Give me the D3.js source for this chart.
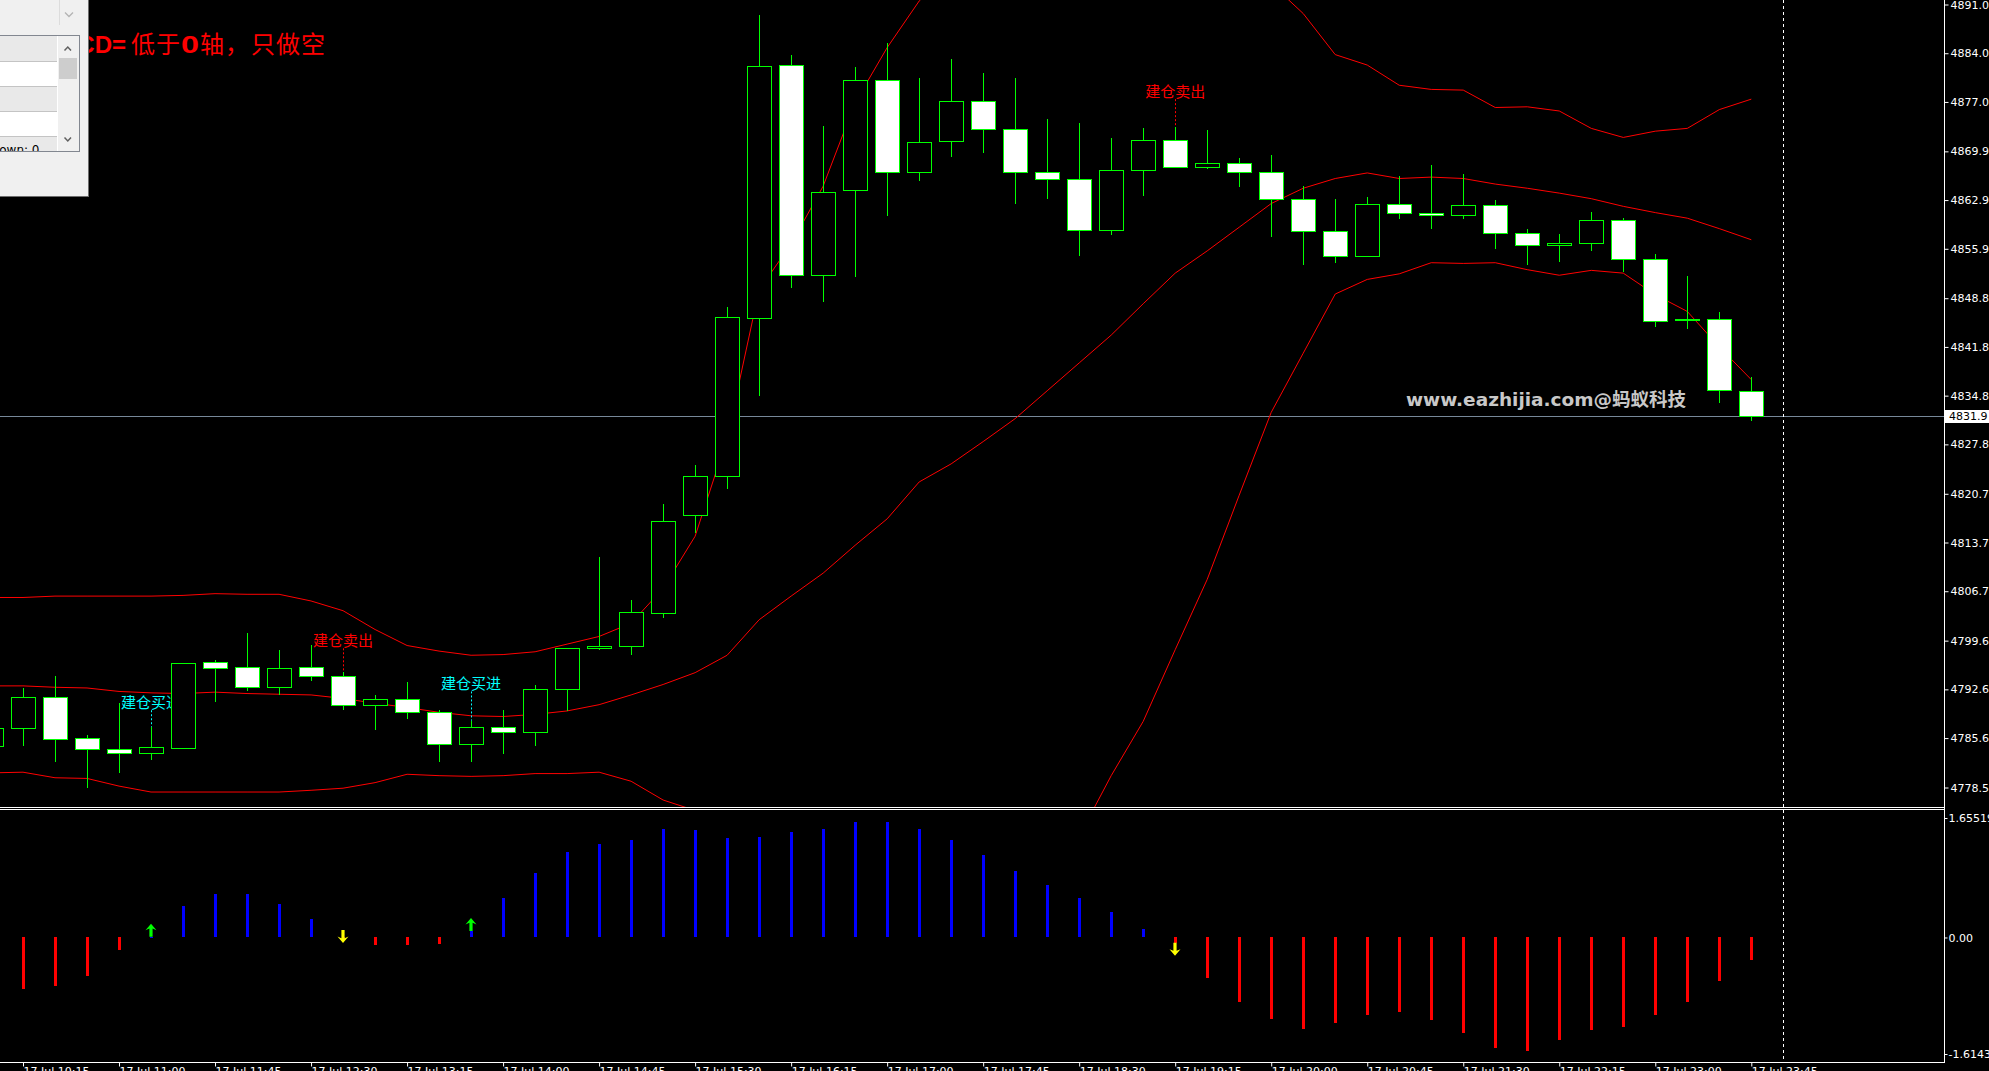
<!DOCTYPE html>
<html><head><meta charset="utf-8">
<script src="https://cdn.jsdelivr.net/npm/d3@7"></script>
<style>html,body{margin:0;padding:0;background:#000;overflow:hidden}svg{display:block}</style>
</head><body><svg id="c" width="1989" height="1071"></svg>
<script>
// ---------- DATA ----------
const times = ["10:00","10:15","10:30","10:45","11:00","11:15","11:30","11:45","12:00","12:15","12:30","12:45","13:00","13:15","13:30","13:45","14:00","14:15","14:30","14:45","15:00","15:15","15:30","15:45","16:00","16:15","16:30","16:45","17:00","17:15","17:30","17:45","18:00","18:15","18:30","18:45","19:00","19:15","19:30","19:45","20:00","20:15","20:30","20:45","21:00","21:15","21:30","21:45","22:00","22:15","22:30","22:45","23:00","23:15","23:30","23:45"];
const open  = [4784.5,4787.0,4791.5,4785.6,4784.1,4783.4,4784.2,4796.5,4795.8,4792.9,4795.8,4794.5,4790.3,4791.2,4789.3,4784.7,4787.2,4786.5,4792.6,4798.5,4798.9,4803.6,4817.6,4823.2,4845.9,4882.3,4852.1,4864.3,4880.2,4866.9,4871.4,4877.2,4873.1,4866.9,4866.0,4858.6,4867.2,4871.6,4867.6,4868.2,4866.9,4863.0,4858.4,4854.8,4862.4,4861.0,4860.7,4862.2,4858.1,4856.4,4856.7,4860.1,4854.4,4845.8,4845.8,4835.4];
const high  = [4788.0,4792.8,4794.5,4786.0,4790.6,4787.2,4796.45,4796.8,4800.7,4798.3,4799.0,4795.1,4791.8,4793.7,4789.6,4788.1,4789.6,4793.2,4798.6,4811.6,4805.4,4819.3,4824.9,4847.6,4889.5,4883.8,4873.6,4882.0,4885.5,4880.4,4883.1,4881.2,4880.4,4874.6,4874.0,4871.8,4873.3,4873.4,4873.0,4868.9,4869.4,4864.9,4863.0,4863.3,4866.4,4867.9,4866.7,4862.9,4858.7,4858.0,4861.2,4860.3,4855.2,4852.0,4846.8,4837.5];
const low   = [4783.0,4784.5,4782.2,4778.5,4780.6,4782.4,4784.0,4790.8,4792.4,4791.8,4793.8,4789.7,4786.8,4788.3,4782.1,4782.1,4783.3,4784.4,4789.5,4798.2,4797.5,4802.9,4815.0,4821.4,4834.8,4850.2,4848.3,4851.9,4860.6,4865.7,4869.1,4869.6,4862.4,4863.0,4854.8,4857.9,4863.5,4867.5,4867.4,4864.8,4857.6,4853.6,4853.9,4854.8,4860.2,4858.8,4860.2,4855.8,4853.6,4854.0,4855.6,4852.6,4844.6,4844.4,4833.8,4831.1];
const close = [4787.0,4791.5,4785.5,4784.1,4783.4,4784.3,4796.4,4795.7,4792.9,4795.6,4794.5,4790.3,4791.2,4789.3,4784.7,4787.2,4786.5,4792.6,4798.5,4798.9,4803.7,4816.8,4823.3,4846.1,4882.2,4852.1,4864.1,4880.2,4866.9,4871.3,4877.2,4873.1,4866.9,4866.0,4858.6,4867.2,4871.6,4867.6,4868.2,4866.9,4863.0,4858.4,4854.8,4862.4,4861.1,4860.7,4862.2,4858.1,4856.4,4856.7,4860.1,4854.4,4845.5,4845.8,4835.6,4831.9];
const bbUpper  = [4805.8,4805.8,4806.0,4806.0,4806.0,4806.0,4806.1,4806.35,4806.26,4806.26,4805.3,4803.9,4801.2,4798.9,4798.1,4797.5,4797.6,4798.0,4799.1,4800.2,4802.1,4807.1,4814.6,4828.7,4850.0,4856.6,4864.9,4876.9,4884.8,4891.5,4896,4899,4902,4905,4907,4907,4908,4906.5,4903,4898,4894,4889.7,4883.8,4882.3,4879.4,4878.8,4878.7,4876.2,4876.3,4875.7,4873.2,4871.9,4872.8,4873.2,4875.9,4877.4];
const bbMiddle = [4793.1,4793.1,4792.9,4792.8,4792.3,4792.1,4792.0,4792.2,4792.0,4791.9,4791.8,4791.3,4790.6,4790.0,4789.3,4788.8,4788.7,4789.0,4789.5,4790.4,4791.8,4793.3,4795.0,4797.5,4802.6,4806.0,4809.3,4813.3,4817.1,4822.4,4825.0,4828.2,4831.5,4835.5,4839.5,4843.5,4848.0,4852.4,4855.6,4859.0,4862.4,4864.6,4866.0,4866.8,4866.0,4866.2,4866.0,4865.2,4864.6,4863.9,4863.1,4862.0,4861.1,4860.3,4858.8,4857.2];
const bbLower  = [4780.6,4780.7,4779.9,4779.8,4778.7,4777.85,4777.85,4777.85,4777.85,4777.85,4778.1,4778.4,4779.2,4780.4,4780.2,4780.1,4780.2,4780.5,4780.5,4780.7,4779.4,4776.7,4775.2,4766.3,4755.2,4755.4,4753.7,4749.7,4749.4,4753.3,4754,4757.4,4761,4766,4771.5,4780.2,4788.0,4798.3,4808.4,4820.5,4832.4,4840.9,4849.4,4851.5,4852.3,4853.9,4853.8,4853.9,4852.9,4852.1,4852.8,4852.4,4849.3,4846.9,4841.8,4837.1];
const macdHist = [-0.72,-0.71,-0.67,-0.53,-0.18,0.01,0.44,0.60,0.60,0.47,0.26,-0.01,-0.11,-0.11,-0.09,0.09,0.55,0.89,1.18,1.30,1.35,1.50,1.49,1.38,1.39,1.46,1.50,1.60,1.60,1.50,1.35,1.14,0.92,0.73,0.55,0.35,0.12,-0.07,-0.56,-0.89,-1.13,-1.27,-1.19,-1.07,-1.03,-1.15,-1.33,-1.53,-1.57,-1.42,-1.28,-1.24,-1.08,-0.89,-0.60,-0.31];
const priceTicks = [4891.0,4884.0,4877.0,4869.9,4862.9,4855.9,4848.8,4841.8,4834.8,4827.8,4820.7,4813.7,4806.7,4799.6,4792.6,4785.6,4778.5];
const lastPrice = 4831.9;
const macdTicks = [1.65519, 0, -1.6143];
const macdTickLabels = ["1.65519","0.00","-1.6143"];
const timeTicks = ["10:15","11:00","11:45","12:30","13:15","14:00","14:45","15:30","16:15","17:00","17:45","18:30","19:15","20:00","20:45","21:30","22:15","23:00","23:45"];
const timeTickLabels = ["17 Jul 10:15","17 Jul 11:00","17 Jul 11:45","17 Jul 12:30","17 Jul 13:15","17 Jul 14:00","17 Jul 14:45","17 Jul 15:30","17 Jul 16:15","17 Jul 17:00","17 Jul 17:45","17 Jul 18:30","17 Jul 19:15","17 Jul 20:00","17 Jul 20:45","17 Jul 21:30","17 Jul 22:15","17 Jul 23:00","17 Jul 23:45"];
const signalTimes  = ["11:15","12:45","13:45","19:15"];
const signalTexts  = ["建仓买进","建仓卖出","建仓买进","建仓卖出"];
const signalColors = ["#00ffff","#ff0000","#00ffff","#ff0000"];
const signalPrices = [4789.6,4798.5,4792.3,4877.4];
const arrowTimes = ["11:15","12:45","13:45","19:15"];
const arrowDirs  = ["up","down","up","down"];
const arrowVals  = [0.01,0.103,0.09,-0.072];
const titleParts = ["MACD=","低于","0","轴，","只做空"];
const watermark = "www.eazhijia.com@蚂蚁科技";

// ---------- SCALES ----------
const svg = d3.select("#c");
svg.append("rect").attr("width",1989).attr("height",1071).attr("fill","#000");
const axisX = 1944, mainBottom = 807, indTop = 810, indBottom = 1062;
const x = d3.scalePoint().domain(times).range([-9, 1751.3]);
const y = d3.scaleLinear().domain([4778.5, 4891.0]).range([787.5, 4.5]);
const ym = d3.scaleLinear().domain([-1.6143, 1.65519]).range([1054, 818]);
const idx = d3.range(times.length);
const px = v => Math.round(v) + 0.5;

const defs = svg.append("defs");
defs.append("clipPath").attr("id","mainClip").append("rect").attr("x",0).attr("y",0).attr("width",axisX).attr("height",mainBottom);
defs.append("clipPath").attr("id","indClip").append("rect").attr("x",0).attr("y",indTop).attr("width",axisX).attr("height",indBottom-indTop);
defs.append("clipPath").attr("id","lbClip").append("rect").attr("x",0).attr("y",36).attr("width",57).attr("height",115);

// ---------- MAIN PANEL ----------
const main = svg.append("g").attr("clip-path","url(#mainClip)");
main.append("line").attr("x1",0).attr("x2",axisX).attr("y1",px(y(lastPrice))).attr("y2",px(y(lastPrice)))
  .attr("stroke","#778899").attr("stroke-width",1);
const bandLine = arr => d3.line().x(i => x(times[i])).y(i => y(arr[i]))(idx);
[bbUpper,bbMiddle,bbLower].forEach(arr => {
  main.append("path").attr("d",bandLine(arr)).attr("fill","none").attr("stroke","#ff0000").attr("stroke-width",1);
});
signalTimes.forEach((t,k) => {
  const i = times.indexOf(t);
  const cx = px(x(t));
  const yb = y(signalPrices[k]);
  main.append("line").attr("x1",cx).attr("x2",cx).attr("y1",yb).attr("y2",y(high[i]))
    .attr("stroke",signalColors[k]).attr("stroke-width",1).attr("stroke-dasharray","2,2");
  main.append("text").attr("x",x(t)).attr("y",yb-2).attr("text-anchor","middle")
    .attr("font-family","'Noto Sans CJK SC','Noto Sans',sans-serif").attr("font-size",15)
    .attr("fill",signalColors[k]).text(signalTexts[k]);
});
const cg = main.append("g").attr("shape-rendering","crispEdges");
idx.forEach(i => {
  const cx = px(x(times[i]));
  cg.append("line").attr("x1",cx).attr("x2",cx).attr("y1",y(high[i])).attr("y2",y(low[i]))
    .attr("stroke","#00ff00").attr("stroke-width",1);
});
idx.forEach(i => {
  const cx = Math.round(x(times[i]));
  const top = Math.round(y(Math.max(open[i],close[i])));
  const bot = Math.round(y(Math.min(open[i],close[i])));
  const bear = close[i] < open[i];
  cg.append("rect").attr("x",cx-12+0.5).attr("y",top+0.5).attr("width",24).attr("height",Math.max(1,bot-top))
    .attr("fill", bear ? "#ffffff" : "#000000").attr("stroke","#00ff00").attr("stroke-width",1);
});
svg.append("text").attr("x",1406).attr("y",406)
  .attr("font-family","'DejaVu Sans','Noto Sans CJK SC',sans-serif").attr("font-weight","bold").attr("font-size",18.5)
  .attr("fill","#c8c8c8").text(watermark);

// ---------- INDICATOR PANEL ----------
const ind = svg.append("g").attr("clip-path","url(#indClip)").attr("shape-rendering","crispEdges");
idx.forEach(i => {
  const v = macdHist[i];
  const cx = x(times[i]);
  const y0 = ym(0), y1 = ym(v);
  ind.append("rect").attr("x",Math.round(cx)-1).attr("width",3)
    .attr("y",Math.min(y0,y1)).attr("height",Math.max(1,Math.abs(y1-y0)))
    .attr("fill", v >= 0 ? "#0000ff" : "#ff0000");
});
const arrowG = svg.append("g");
arrowTimes.forEach((t,k) => {
  const cx = Math.round(x(t));
  const yb = ym(arrowVals[k]);
  const s = arrowDirs[k] === "up" ? -1 : 1;
  const pts = [[0,13],[5.5,6.5],[1.6,8.2],[1.6,0],[-1.6,0],[-1.6,8.2],[-5.5,6.5]]
    .map(p => [cx + p[0], yb + s*p[1]]);
  arrowG.append("path").attr("d","M"+pts.map(p=>p.join(",")).join("L")+"Z")
    .attr("fill", arrowDirs[k] === "up" ? "#00ff00" : "#ffff00");
});

// ---------- FRAME / AXES ----------
const frame = svg.append("g").attr("shape-rendering","crispEdges");
frame.append("line").attr("x1",0).attr("x2",axisX).attr("y1",807.5).attr("y2",807.5).attr("stroke","#ffffff");
frame.append("line").attr("x1",0).attr("x2",axisX).attr("y1",809.5).attr("y2",809.5).attr("stroke","#ffffff");
frame.append("line").attr("x1",axisX+0.5).attr("x2",axisX+0.5).attr("y1",0).attr("y2",indBottom).attr("stroke","#ffffff");
frame.append("line").attr("x1",0).attr("x2",axisX+1).attr("y1",indBottom+0.5).attr("y2",indBottom+0.5).attr("stroke","#ffffff");
const shiftX = px(x(times[times.length-1]) + x.step());
frame.append("line").attr("x1",shiftX).attr("x2",shiftX).attr("y1",0).attr("y2",indBottom)
  .attr("stroke","#ffffff").attr("stroke-dasharray","3,3");

const axFont = "'DejaVu Sans',sans-serif";
const styleAxis = g => {
  g.select(".domain").remove();
  g.selectAll("line").attr("stroke","#ffffff");
  g.selectAll("text").attr("fill","#ffffff").attr("font-family",axFont).attr("font-size",11);
};
svg.append("g").attr("transform",`translate(${axisX+0.5},0)`)
  .call(d3.axisRight(y).tickValues(priceTicks).tickSize(4).tickPadding(2).tickFormat(d3.format(".1f")))
  .call(styleAxis);
svg.append("g").attr("transform",`translate(${axisX+0.5},0)`)
  .call(d3.axisRight(ym).tickValues(macdTicks).tickSize(3).tickPadding(1).tickFormat((d,i)=>macdTickLabels[i]))
  .call(styleAxis);
const xAx = svg.append("g").attr("transform",`translate(0,${indBottom+0.5})`)
  .call(d3.axisBottom(x).tickValues(timeTicks).tickSize(4).tickFormat((d,i)=>timeTickLabels[i]))
  .call(styleAxis);
xAx.selectAll("text").attr("text-anchor","start").attr("y",5).attr("x",0);

const lp = svg.append("g");
lp.append("rect").attr("x",axisX+1).attr("y",Math.round(y(lastPrice))-6).attr("width",1989-axisX-1).attr("height",13).attr("fill","#ffffff");
lp.append("text").attr("x",axisX+5).attr("y",y(lastPrice)).attr("dy","0.35em")
  .attr("font-family",axFont).attr("font-size",11).attr("fill","#000").text(lastPrice.toFixed(1));

// ---------- TITLE TEXT ----------
const title = svg.append("text").attr("y",53).attr("fill","#ff0000").attr("font-size",24);
const titleX = [40,131,181,200,251];
const titleBold = [true,false,true,false,false];
titleParts.forEach((s,k) => {
  const ts = title.append("tspan").attr("x",titleX[k])
    .attr("font-family", titleBold[k] ? "'Liberation Sans',Arial,sans-serif" : "'Noto Sans CJK SC',sans-serif")
    .attr("font-weight", titleBold[k] ? "bold" : "normal")
    .attr("letter-spacing", titleBold[k] ? 0 : 1)
    .text(s);
  if (s === "0") ts.attr("textLength",18).attr("lengthAdjust","spacingAndGlyphs");
});

// ---------- TOP-LEFT UI PANEL ----------
const ui = svg.append("g").attr("shape-rendering","crispEdges");
ui.append("rect").attr("x",0).attr("y",0).attr("width",88).attr("height",196).attr("fill","#f0f0f0");
ui.append("line").attr("x1",88.5).attr("x2",88.5).attr("y1",0).attr("y2",197).attr("stroke","#6e6e6e");
ui.append("line").attr("x1",0).attr("x2",89).attr("y1",196.5).attr("y2",196.5).attr("stroke","#6e6e6e");
ui.append("line").attr("x1",59.5).attr("x2",59.5).attr("y1",0).attr("y2",25).attr("stroke","#dcdcdc");
ui.append("path").attr("d","M65,12.5L69,16.5L73,12.5").attr("fill","none").attr("stroke","#b4b4b4").attr("stroke-width",1.3).attr("shape-rendering","auto");
ui.append("rect").attr("x",-1).attr("y",35.5).attr("width",80).attr("height",116).attr("fill","#ffffff").attr("stroke","#828790");
const rows = [[36,61,"#e9e9e9"],[62,86,"#ffffff"],[87,111,"#e9e9e9"],[112,136,"#ffffff"],[137,151,"#e9e9e9"]];
rows.forEach(r => ui.append("rect").attr("x",0).attr("y",r[0]).attr("width",57).attr("height",r[1]-r[0]).attr("fill",r[2]));
[61.5,86.5,111.5,136.5].forEach(v => ui.append("line").attr("x1",0).attr("x2",57).attr("y1",v).attr("y2",v).attr("stroke","#c4c4c4"));
ui.append("rect").attr("x",57.5).attr("y",36).attr("width",21).attr("height",115).attr("fill","#f0f0f0");
ui.append("rect").attr("x",58.5).attr("y",58).attr("width",18.5).attr("height",21).attr("fill","#cdcdcd");
ui.append("path").attr("d","M64.5,50.5L67.8,47L71,50.5").attr("fill","none").attr("stroke","#606060").attr("stroke-width",1.5).attr("shape-rendering","auto");
ui.append("path").attr("d","M64.5,137.5L67.8,141L71,137.5").attr("fill","none").attr("stroke","#606060").attr("stroke-width",1.5).attr("shape-rendering","auto");
ui.append("text").attr("x",-10).attr("y",154).attr("clip-path","url(#lbClip)")
  .attr("font-family",axFont).attr("font-size",12).attr("fill","#000").text("Down: 0");
</script></body></html>
